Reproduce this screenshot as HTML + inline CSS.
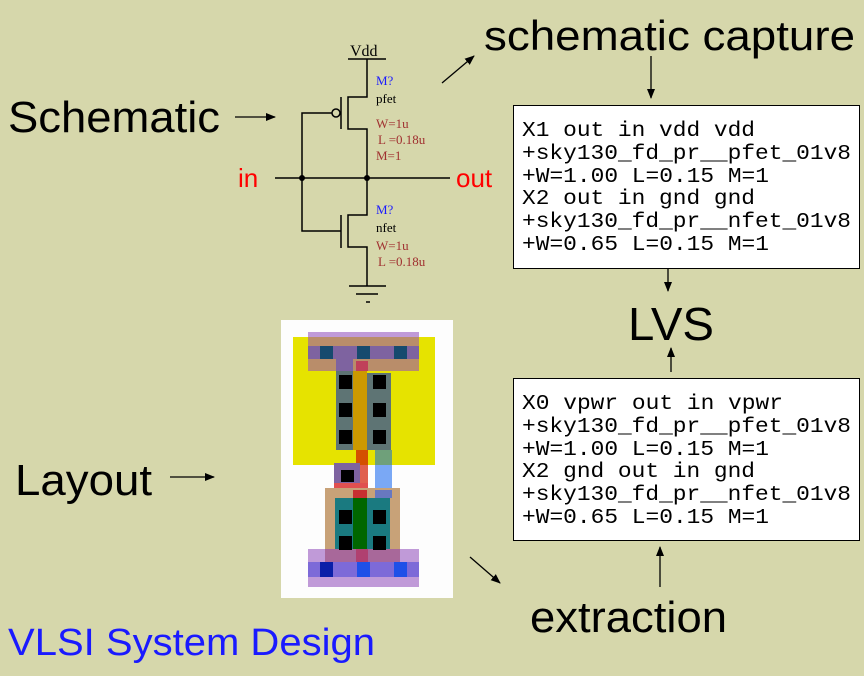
<!DOCTYPE html>
<html><head><style>
body{margin:0;background:#d6d7ab;}
svg{display:block}
.b{font-family:"Liberation Sans",sans-serif;}
.m{font-family:"Liberation Mono",monospace;font-size:21px;}
.s{font-family:"Liberation Serif",serif;font-size:13px;}
</style></head><body>
<svg width="864" height="676" viewBox="0 0 864 676" xmlns="http://www.w3.org/2000/svg">
<defs><marker id="a" markerWidth="10" markerHeight="8" refX="9" refY="4" orient="auto" markerUnits="userSpaceOnUse"><path d="M0,0 L10,4 L0,8z" fill="#000"/></marker></defs>
<rect width="864" height="676" fill="#d6d7ab"/>
<text class="b" x="8" y="132" font-size="44" textLength="212" lengthAdjust="spacingAndGlyphs">Schematic</text>
<text class="b" x="484" y="50" font-size="42" textLength="371" lengthAdjust="spacingAndGlyphs">schematic capture</text>
<text class="b" x="628" y="340" font-size="46" textLength="86" lengthAdjust="spacingAndGlyphs">LVS</text>
<text class="b" x="15" y="495" font-size="44" textLength="137" lengthAdjust="spacingAndGlyphs">Layout</text>
<text class="b" x="530" y="632" font-size="44" textLength="197" lengthAdjust="spacingAndGlyphs">extraction</text>
<text class="b" x="8" y="655" font-size="38" fill="#1a1aff" textLength="367" lengthAdjust="spacingAndGlyphs">VLSI System Design</text>
<g stroke="#000" stroke-width="1.3" fill="none" marker-end="url(#a)">
<line x1="235" y1="117" x2="275" y2="117"/>
<line x1="170" y1="477" x2="214" y2="477"/>
<line x1="442" y1="83" x2="474" y2="56"/>
<line x1="651" y1="56" x2="651" y2="98"/>
<line x1="668" y1="254" x2="668" y2="291"/>
<line x1="671" y1="372" x2="671" y2="348"/>
<line x1="470" y1="557" x2="500" y2="583"/>
<line x1="660" y1="587" x2="660" y2="547"/>
</g>
<rect x="513.5" y="105.5" width="346" height="163" fill="#fff" stroke="#000"/>
<rect x="513.5" y="378.5" width="346" height="162" fill="#fff" stroke="#000"/>
<g class="m" lengthAdjust="spacingAndGlyphs">
<text x="522" y="136" textLength="233" lengthAdjust="spacingAndGlyphs">X1 out in vdd vdd</text>
<text x="522" y="159" textLength="329" lengthAdjust="spacingAndGlyphs">+sky130_fd_pr__pfet_01v8</text>
<text x="522" y="182" textLength="247" lengthAdjust="spacingAndGlyphs">+W=1.00 L=0.15 M=1</text>
<text x="522" y="204" textLength="233" lengthAdjust="spacingAndGlyphs">X2 out in gnd gnd</text>
<text x="522" y="227" textLength="329" lengthAdjust="spacingAndGlyphs">+sky130_fd_pr__nfet_01v8</text>
<text x="522" y="250" textLength="247" lengthAdjust="spacingAndGlyphs">+W=0.65 L=0.15 M=1</text>
<text x="522" y="409" textLength="261" lengthAdjust="spacingAndGlyphs">X0 vpwr out in vpwr</text>
<text x="522" y="432" textLength="329" lengthAdjust="spacingAndGlyphs">+sky130_fd_pr__pfet_01v8</text>
<text x="522" y="455" textLength="247" lengthAdjust="spacingAndGlyphs">+W=1.00 L=0.15 M=1</text>
<text x="522" y="477" textLength="233" lengthAdjust="spacingAndGlyphs">X2 gnd out in gnd</text>
<text x="522" y="500" textLength="329" lengthAdjust="spacingAndGlyphs">+sky130_fd_pr__nfet_01v8</text>
<text x="522" y="523" textLength="247" lengthAdjust="spacingAndGlyphs">+W=0.65 L=0.15 M=1</text>
</g>
<!-- schematic -->
<g stroke="#000" stroke-width="1.5" fill="none">
<line x1="348" y1="59" x2="386" y2="59"/>
<polyline points="367,59 367,97 348,97 348,129 367,129 367,215 348,215 348,247 367,247 367,286"/>
<line x1="341" y1="97" x2="341" y2="129"/>
<line x1="341" y1="215" x2="341" y2="248"/>
<circle cx="336" cy="113" r="4"/>
<polyline points="332,113 302,113 302,231 341,231"/>
<line x1="275" y1="178" x2="450" y2="178"/>
<line x1="349" y1="286" x2="386" y2="286"/>
<line x1="356" y1="294" x2="378" y2="294"/>
<line x1="366" y1="302" x2="370" y2="302"/>
</g>
<circle cx="302" cy="178" r="3" fill="#000"/>
<circle cx="367" cy="178" r="3" fill="#000"/>
<text x="350" y="56" font-family="Liberation Serif,serif" font-size="16">Vdd</text>
<text class="b" x="238" y="187" font-size="26" fill="#f00">in</text>
<text class="b" x="456" y="187" font-size="26" fill="#f00">out</text>
<g class="s">
<text x="376" y="85" fill="#1a1aff">M?</text>
<text x="376" y="103">pfet</text>
<text x="376" y="128" fill="#a03030">W=1u</text>
<text x="378" y="144" fill="#a03030">L =0.18u</text>
<text x="376" y="160" fill="#a03030">M=1</text>
<text x="376" y="214" fill="#1a1aff">M?</text>
<text x="376" y="232">nfet</text>
<text x="376" y="250" fill="#a03030">W=1u</text>
<text x="378" y="266" fill="#a03030">L =0.18u</text>
</g>
<!-- layout -->
<rect x="281" y="320" width="172" height="278" fill="#fdfdfd"/>
<rect x="293" y="337" width="142" height="128" fill="#e6e300"/>
<rect x="308" y="332" width="111" height="6" fill="#c09ad8"/>
<rect x="308" y="337" width="111" height="34" fill="#b98d6a"/>
<rect x="308" y="346" width="111" height="13" fill="#7e63a0"/>
<rect x="336" y="359" width="17" height="12" fill="#7e63a0"/>
<rect x="320" y="346" width="13" height="13" fill="#164a6e"/>
<rect x="357" y="346" width="13" height="13" fill="#164a6e"/>
<rect x="394" y="346" width="13" height="13" fill="#164a6e"/>
<rect x="356" y="361" width="12" height="10" fill="#c0405a"/>
<rect x="336" y="371" width="17" height="79" fill="#5e7474"/>
<rect x="367" y="373" width="24" height="77" fill="#5e7474"/>
<rect x="353" y="371" width="14" height="79" fill="#cc9900"/>
<rect x="356" y="450" width="12" height="40" fill="#e06050"/>
<rect x="356" y="450" width="12" height="15" fill="#d45000"/>
<rect x="375" y="450" width="17" height="40" fill="#7aa8f5"/>
<rect x="375" y="450" width="17" height="15" fill="#6fa07a"/>
<rect x="334" y="463" width="26" height="20" fill="#7e63a0"/>
<rect x="334" y="483" width="34" height="7" fill="#e05050"/>
<rect x="325" y="488" width="75" height="72" fill="#c8a278"/>
<rect x="335" y="498" width="18" height="51" fill="#1a7a80"/>
<rect x="367" y="498" width="23" height="51" fill="#1a7a80"/>
<rect x="353" y="490" width="14" height="8" fill="#c83030"/>
<rect x="353" y="498" width="14" height="51" fill="#006600"/>
<rect x="375" y="490" width="17" height="8" fill="#6878c0"/>
<rect x="308" y="549" width="111" height="38" fill="#c09ad8"/>
<rect x="325" y="549" width="75" height="13" fill="#a8689a"/>
<rect x="356" y="549" width="12" height="13" fill="#b04070"/>
<rect x="308" y="562" width="111" height="15" fill="#7d6ad8"/>
<rect x="320" y="562" width="13" height="15" fill="#0a1fa8"/>
<rect x="357" y="562" width="13" height="15" fill="#1f50e8"/>
<rect x="394" y="562" width="13" height="15" fill="#1f50e8"/>
<g fill="#000">
<rect x="339" y="375" width="13" height="14"/><rect x="373" y="375" width="13" height="14"/>
<rect x="339" y="403" width="13" height="14"/><rect x="373" y="403" width="13" height="14"/>
<rect x="339" y="430" width="13" height="14"/><rect x="373" y="430" width="13" height="14"/>
<rect x="341" y="470" width="13" height="12"/>
<rect x="339" y="510" width="13" height="14"/><rect x="373" y="510" width="13" height="14"/>
<rect x="339" y="536" width="13" height="14"/><rect x="373" y="536" width="13" height="14"/>
</g>
</svg>
</body></html>
